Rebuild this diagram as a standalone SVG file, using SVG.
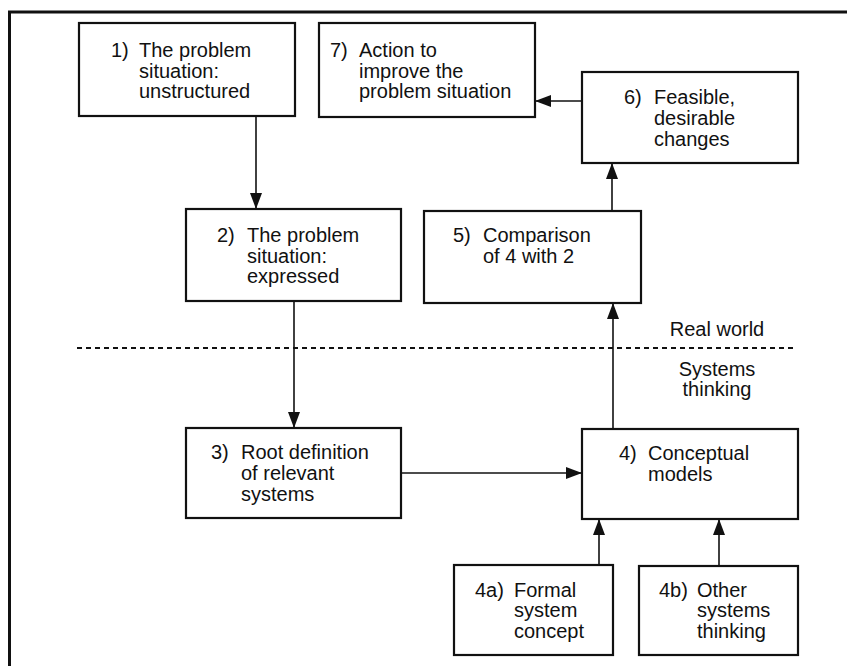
<svg xmlns="http://www.w3.org/2000/svg" width="847" height="666" viewBox="0 0 847 666">
<defs>
<style>
.box{fill:#fff;stroke:#111;stroke-width:2.2}
.t{font-family:"Liberation Sans",Arial,sans-serif;font-size:20px;fill:#111}
.c{fill:none;stroke:#111;stroke-width:1.6}
.frame{fill:none;stroke:#111;stroke-width:3}
</style>
<marker id="ah" viewBox="0 0 16 12" refX="16" refY="6" markerWidth="16" markerHeight="12" markerUnits="userSpaceOnUse" orient="auto">
<path d="M0,0 L16,6 L0,12 Z" fill="#111"/>
</marker>
</defs>
<rect width="847" height="666" fill="#fff"/>
<path class="frame" d="M9.5,666 V12 H847"/>
<g id="divider">
<line x1="77" y1="348" x2="794" y2="348" stroke="#111" stroke-width="2" stroke-dasharray="5,4"/>
<text class="t" x="717" y="336" text-anchor="middle">Real world</text>
<text class="t" x="717" y="376" text-anchor="middle">Systems</text>
<text class="t" x="717" y="396" text-anchor="middle">thinking</text>
</g>
<g id="connectors">
<line class="c" x1="256" y1="116" x2="256" y2="209" marker-end="url(#ah)"/>
<line class="c" x1="294" y1="301" x2="294" y2="428" marker-end="url(#ah)"/>
<line class="c" x1="401" y1="473" x2="582" y2="473" marker-end="url(#ah)"/>
<line class="c" x1="613" y1="429" x2="613" y2="303" marker-end="url(#ah)"/>
<line class="c" x1="612" y1="211" x2="612" y2="163" marker-end="url(#ah)"/>
<line class="c" x1="582" y1="101" x2="535" y2="101" marker-end="url(#ah)"/>
<line class="c" x1="599" y1="565" x2="599" y2="519" marker-end="url(#ah)"/>
<line class="c" x1="719" y1="566" x2="719" y2="519" marker-end="url(#ah)"/>
</g>
<g id="n1">
<rect class="box" x="79" y="23" width="216" height="93"/>
<text class="t" x="111" y="57">1)</text>
<text class="t"><tspan x="139" y="57">The problem</tspan><tspan x="139" y="78">situation:</tspan><tspan x="139" y="98">unstructured</tspan></text>
</g>
<g id="n7">
<rect class="box" x="319" y="23" width="216" height="94"/>
<text class="t" x="330" y="57">7)</text>
<text class="t"><tspan x="359" y="57">Action to</tspan><tspan x="359" y="78">improve the</tspan><tspan x="359" y="98">problem situation</tspan></text>
</g>
<g id="n6">
<rect class="box" x="582" y="72" width="216" height="91"/>
<text class="t" x="624" y="104">6)</text>
<text class="t"><tspan x="654" y="104">Feasible,</tspan><tspan x="654" y="125">desirable</tspan><tspan x="654" y="146">changes</tspan></text>
</g>
<g id="n2">
<rect class="box" x="186" y="209" width="215" height="92"/>
<text class="t" x="217" y="242">2)</text>
<text class="t"><tspan x="247" y="242">The problem</tspan><tspan x="247" y="263">situation:</tspan><tspan x="247" y="283">expressed</tspan></text>
</g>
<g id="n5">
<rect class="box" x="424" y="211" width="217" height="92"/>
<text class="t" x="453" y="242">5)</text>
<text class="t"><tspan x="483" y="242">Comparison</tspan><tspan x="483" y="263">of 4 with 2</tspan></text>
</g>
<g id="n3">
<rect class="box" x="186" y="428" width="215" height="90"/>
<text class="t" x="211" y="459">3)</text>
<text class="t"><tspan x="241" y="459">Root definition</tspan><tspan x="241" y="480">of relevant</tspan><tspan x="241" y="501">systems</tspan></text>
</g>
<g id="n4">
<rect class="box" x="582" y="429" width="216" height="90"/>
<text class="t" x="619" y="460">4)</text>
<text class="t"><tspan x="648" y="460">Conceptual</tspan><tspan x="648" y="481">models</tspan></text>
</g>
<g id="n4a">
<rect class="box" x="454" y="565" width="159" height="90"/>
<text class="t" x="475" y="597">4a)</text>
<text class="t"><tspan x="514" y="597">Formal</tspan><tspan x="514" y="617">system</tspan><tspan x="514" y="638">concept</tspan></text>
</g>
<g id="n4b">
<rect class="box" x="639" y="566" width="159" height="89"/>
<text class="t" x="659" y="597">4b)</text>
<text class="t"><tspan x="697" y="597">Other</tspan><tspan x="697" y="617">systems</tspan><tspan x="697" y="638">thinking</tspan></text>
</g>
</svg>
